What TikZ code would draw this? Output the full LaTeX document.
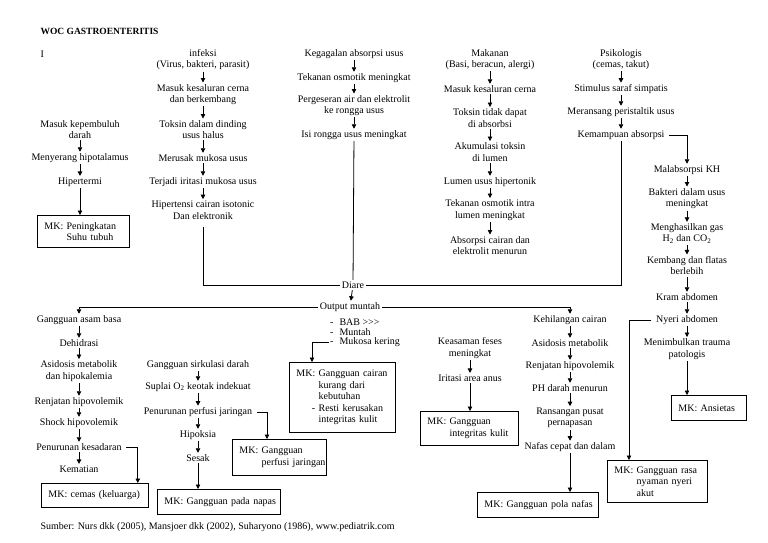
\documentclass[tikz,border=0pt]{standalone}
\usepackage{fontspec}
\setmainfont{Liberation Serif}
\usetikzlibrary{arrows.meta, positioning}
\hyphenpenalty=10000
\exhyphenpenalty=10000

\begin{document}
\begin{tikzpicture}[x=1pt, y=-1pt,
        every node/.style={font=\fontsize{10}{11.5}\selectfont},
        txt/.style={align=center, inner sep=1.5pt},
        item/.style={anchor=west, inner sep=1pt},
        mk/.style={draw, line width=0.8pt, anchor=north west, align=left, inner xsep=7pt, inner ysep=2pt},
        arr/.style={line width=0.8pt, -{Triangle[width=4.5pt, length=4.5pt]}},
        ln/.style={line width=0.8pt}]
            \useasboundingbox (0,0) rectangle (768,543);

            % === Judul ===
            \node[anchor=west, font=\fontsize{9.5}{11}\selectfont\bfseries] (judul) at (37,31) {WOC GASTROENTERITIS};
            \node[anchor=west] (nomor) at (37,54) {I};

            % === Kolom 0: pembuluh darah ===
            \node[txt] (pembuluh) at (80,129.5) {Masuk kepembuluh\\darah};
            \node[txt] (hipotal) at (80,158) {Menyerang hipotalamus};
            \node[txt] (hipertermi) at (80,182) {Hipertermi};
            \node[mk, text width=78pt, minimum height=32] (mkSuhu) at (37,215) {MK:~Peningkatan\\\phantom{MK: }Suhu~tubuh};

            \draw[arr] (pembuluh) -- (hipotal);
            \draw[arr] (hipotal) -- (hipertermi);
            \draw[arr] (hipertermi) -- (hipertermi |- mkSuhu.north);

            % === Kolom 1: infeksi ===
            \node[txt] (infeksi) at (203,59.5) {infeksi\\(Virus, bakteri, parasit)};
            \node[txt] (masukA) at (203,94.5) {Masuk kesaluran cerna\\dan berkembang};
            \node[txt] (toksinA) at (203,129.5) {Toksin dalam dinding\\usus halus};
            \node[txt] (merusak) at (203,158) {Merusak mukosa usus};
            \node[txt] (iritasiA) at (203,182) {Terjadi iritasi mukosa usus};
            \node[txt] (hipertensi) at (203,210) {Hipertensi cairan isotonic\\Dan elektronik};

            \draw[arr] (infeksi) -- (masukA);
            \draw[arr] (masukA) -- (toksinA);
            \draw[arr] (toksinA) -- (merusak);
            \draw[arr] (merusak) -- (iritasiA);
            \draw[arr] (iritasiA) -- (hipertensi);

            % === Kolom 2: kegagalan absorpsi ===
            \node[txt] (kegagalan) at (354,54) {Kegagalan absorpsi usus};
            \node[txt] (tekananA) at (354,78) {Tekanan osmotik meningkat};
            \node[txt] (pergeseran) at (354,105.5) {Pergeseran air dan elektrolit\\ke rongga usus};
            \node[txt] (isi) at (354,135) {Isi rongga usus meningkat};

            \draw[arr] (kegagalan) -- (tekananA);
            \draw[arr] (tekananA) -- (pergeseran);
            \draw[arr] (pergeseran) -- (isi);

            % === Kolom 3: makanan ===
            \node[txt] (makanan) at (490,59.5) {Makanan\\(Basi, beracun, alergi)};
            \node[txt] (masukB) at (490,89) {Masuk kesaluran cerna};
            \node[txt] (toksinB) at (490,118) {Toksin tidak dapat\\di absorbsi};
            \node[txt] (akumulasi) at (490,152) {Akumulasi toksin\\di lumen};
            \node[txt] (lumen) at (490,182) {Lumen usus hipertonik};
            \node[txt] (tekananB) at (490,210) {Tekanan osmotik intra\\lumen meningkat};
            \node[txt] (absorpsi) at (490,245.5) {Absorpsi cairan dan\\elektrolit menurun};

            \draw[arr] (makanan) -- (masukB);
            \draw[arr] (masukB) -- (toksinB);
            \draw[arr] (toksinB) -- (akumulasi);
            \draw[arr] (akumulasi) -- (lumen);
            \draw[arr] (lumen) -- (tekananB);
            \draw[arr] (tekananB) -- (absorpsi);

            % === Kolom 4: psikologis ===
            \node[txt] (psikologis) at (621,59.5) {Psikologis\\(cemas, takut)};
            \node[txt] (stimulus) at (621,89) {Stimulus saraf simpatis};
            \node[txt] (meransang) at (621,112) {Meransang peristaltik usus};
            \node[txt] (kemampuan) at (621,135) {Kemampuan absorpsi};

            \draw[arr] (psikologis) -- (stimulus);
            \draw[arr] (stimulus) -- (meransang);
            \draw[arr] (meransang) -- (kemampuan);

            % === Kolom 5: malabsorpsi ===
            \node[txt] (malab) at (687,170) {Malabsorpsi KH};
            \node[txt] (bakteri) at (687,198.5) {Bakteri dalam usus\\meningkat};
            \node[txt] (gas) at (687,233.5) {Menghasilkan gas\\H\textsubscript{2} dan CO\textsubscript{2}};
            \node[txt] (kembang) at (687,265.5) {Kembang dan flatas\\berlebih};
            \node[txt] (kram) at (687,297) {Kram abdomen};
            \node[txt] (nyeri) at (687,320) {Nyeri abdomen};
            \node[txt] (trauma) at (687,349) {Menimbulkan trauma\\patologis};
            \node[mk, text width=61pt, minimum height=25] (mkAnsietas) at (671,395) {MK:~Ansietas};
            \node[mk, text width=86pt, minimum height=42] (mkRasa) at (607,460) {MK:~Gangguan~rasa\\\phantom{MK: }nyaman~nyeri\\\phantom{MK: }akut};

            \draw[arr] ([xshift=3pt]kemampuan.east) -| (malab.north);
            \draw[arr] (malab) -- (bakteri);
            \draw[arr] (bakteri) -- (gas);
            \draw[arr] (gas) -- (kembang);
            \draw[arr] (kembang) -- (kram);
            \draw[arr] (kram) -- (nyeri);
            \draw[arr] (nyeri) -- (trauma);
            \draw[arr] (trauma) -- (trauma |- mkAnsietas.north);
            \draw[arr] ([xshift=-3pt]nyeri.west) -| ([xshift=22pt]mkRasa.north west);

            % === Diare ===
            \node[txt] (diare) at (353,285) {Diare};
            \node[txt] (output) at (350,307) {Output muntah};
            \node[item] (bab) at (329,322) {-\hspace{6pt}BAB >{}>{}>};
            \node[item] (muntah) at (329,332) {-\hspace{6pt}Muntah};
            \node[item] (mukosa) at (329,342) {-\hspace{6pt}Mukosa kering};
            \node[mk, text width=92pt, minimum height=70] (mkCairan) at (289,362) {MK:~Gangguan~cairan\\\phantom{MK: }kurang~dari\\\phantom{MK: }kebutuhan\\\phantom{MK: }\llap{- }Resti~kerusakan\\\phantom{MK: }integritas~kulit};

            \draw[ln] ([yshift=-6pt]hipertensi.south) |- (diare.west);
            \draw[ln] (isi) -- (diare);
            \draw[ln] (kemampuan.south) |- (diare.east);
            \draw[arr] (diare) -- (output);
            \draw[arr] (mukosa.west) -| ([xshift=23pt]mkCairan.north west);

            % === Cabang kiri: asam basa ===
            \node[txt] (asam) at (79,320) {Gangguan asam basa};
            \node[txt] (dehidrasi) at (79,343) {Dehidrasi};
            \node[txt] (asidosisA) at (79,371) {Asidosis metabolik\\dan hipokalemia};
            \node[txt] (renjatanA) at (79,402) {Renjatan hipovolemik};
            \node[txt] (shock) at (79,423) {Shock hipovolemik};
            \node[txt] (kesadaran) at (79,447) {Penurunan kesadaran};
            \node[txt] (kematian) at (79,469) {Kematian};
            \node[mk, text width=93pt, minimum height=24] (mkCemas) at (41,483) {MK:~cemas~(keluarga)};

            \draw[arr] (output.west) -| (asam.north);
            \draw[arr] (asam) -- (dehidrasi);
            \draw[arr] (dehidrasi) -- (asidosisA);
            \draw[arr] (asidosisA) -- (renjatanA);
            \draw[arr] (renjatanA) -- (shock);
            \draw[arr] (shock) -- (kesadaran);
            \draw[arr] (kesadaran) -- (kematian);
            \draw[arr] ([xshift=3pt]kesadaran.east) -| ([xshift=-11pt]mkCemas.north east);

            % === Cabang sirkulasi ===
            \node[txt] (sirkulasi) at (198,365) {Gangguan sirkulasi darah};
            \node[txt] (suplai) at (198,387) {Suplai O\textsubscript{2} keotak indekuat};
            \node[txt] (perfusi) at (198,412) {Penurunan perfusi jaringan};
            \node[txt] (hipoksia) at (198,435) {Hipoksia};
            \node[txt] (sesak) at (198,458) {Sesak};
            \node[mk, text width=80pt, minimum height=36] (mkPerfusi) at (232,439) {MK:~Gangguan\\\phantom{MK: }perfusi~jaringan};
            \node[mk, text width=109pt, minimum height=25] (mkNapas) at (157,489) {MK:~Gangguan~pada~napas};

            \draw[arr] (sirkulasi) -- (suplai);
            \draw[arr] (suplai) -- (perfusi);
            \draw[arr] (perfusi) -- (hipoksia);
            \draw[arr] (hipoksia) -- (sesak);
            \draw[arr] ([xshift=3pt]perfusi.east) -| ([xshift=35pt]mkPerfusi.north west);
            \draw[arr] (sesak) -- (sesak |- mkNapas.north);

            % === Cabang keasaman feses ===
            \node[txt] (keasaman) at (470,348) {Keasaman feses\\meningkat};
            \node[txt] (iritasiB) at (470,378) {Iritasi area anus};
            \node[mk, text width=84pt, minimum height=34] (mkKulit) at (420,411) {MK:~Gangguan\\\phantom{MK: }integritas~kulit};

            \draw[arr] (keasaman) -- (iritasiB);
            \draw[arr] (iritasiB) -- (iritasiB |- mkKulit.north);

            % === Cabang kanan: kehilangan cairan ===
            \node[txt] (kehilangan) at (570,320) {Kehilangan cairan};
            \node[txt] (asidosisB) at (570,343) {Asidosis metabolik};
            \node[txt] (renjatanB) at (570,366) {Renjatan hipovolemik};
            \node[txt] (ph) at (570,388) {PH darah menurun};
            \node[txt] (ransangan) at (570,418) {Ransangan pusat\\pernapasan};
            \node[txt] (nafas) at (570,447) {Nafas cepat dan dalam};
            \node[mk, text width=107pt, minimum height=25] (mkPola) at (477,492) {MK:~Gangguan~pola~nafas};

            \draw[arr] (output.east) -| (kehilangan.north);
            \draw[arr] (kehilangan) -- (asidosisB);
            \draw[arr] (asidosisB) -- (renjatanB);
            \draw[arr] (renjatanB) -- (ph);
            \draw[arr] (ph) -- (ransangan);
            \draw[arr] (ransangan) -- (nafas);
            \draw[arr] (nafas) -- (nafas |- mkPola.north);

            % === Sumber ===
            \node[anchor=west] (sumber) at (37,527) {Sumber: Nurs dkk (2005), Mansjoer dkk (2002), Suharyono (1986), www.pediatrik.com};
        \end{tikzpicture}
\end{document}
